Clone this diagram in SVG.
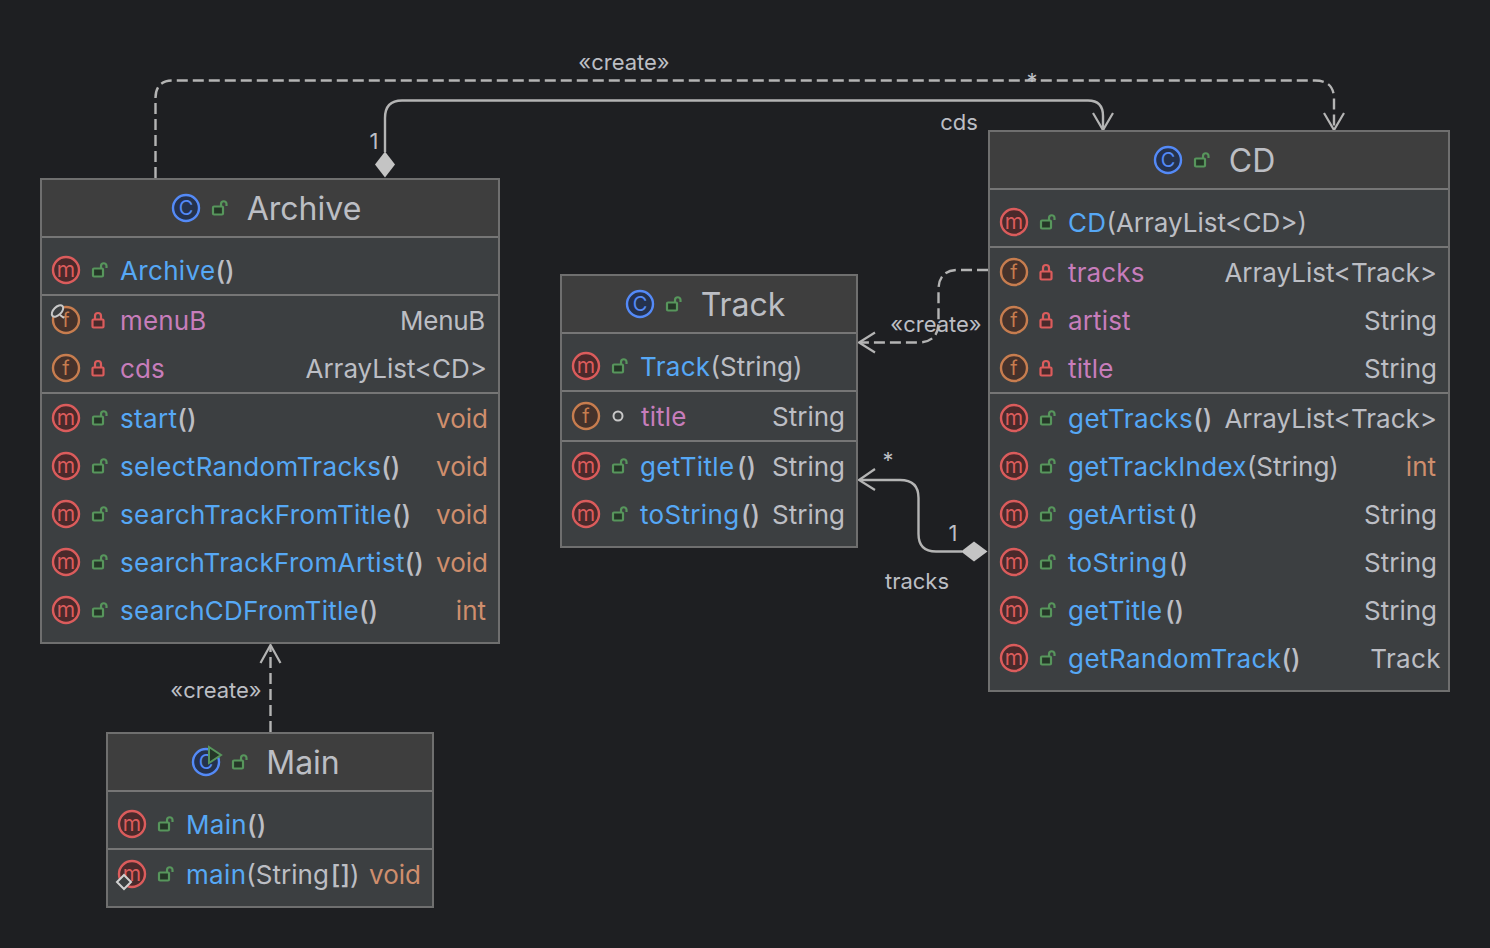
<svg xmlns="http://www.w3.org/2000/svg" width="1490" height="948" viewBox="0 0 1490 948">
<style>
text{font-family:Inter,"Liberation Sans",sans-serif;font-size:26px;fill:#bcbec4}
.title{font-size:32px;text-anchor:middle}
.m{fill:#56a8f5;letter-spacing:.33px}.f{fill:#c77dbb;letter-spacing:.15px}.t{fill:#cf8e6d}
.p{font-weight:500}
.r{text-anchor:end}
.lbl{font-size:22px;fill:#bcbec4}
.body{fill:#3c3f41;stroke:#6f6f6f;stroke-width:2}
.head{fill:#3e3e3e}
.sep{stroke:#767676;stroke-width:2}
.line{fill:none;stroke:#b4b4b4;stroke-width:2.4}
.dash{stroke-dasharray:11 5}
.arrow{fill:none;stroke:#b4b4b4;stroke-width:2.2}
.dia{fill:#c4c4c4}
</style>
<defs>
<g id="im"><circle r="13" fill="#4a2a2b" stroke="#db5c5c" stroke-width="2.4"/><text y="6.500" text-anchor="middle" style="font-size:21px;fill:#db5c5c">m</text></g>
<g id="if"><circle r="13" fill="#45322b" stroke="#c77d4f" stroke-width="2.4"/><text y="7" text-anchor="middle" style="font-size:20px;fill:#c77d4f">f</text></g>
<g id="ic"><circle r="13" fill="#25324d" stroke="#548af7" stroke-width="2.4"/><text y="7" text-anchor="middle" style="font-size:20px;fill:#548af7">C</text></g>
<g id="pub"><rect x="-7" y="-1.500" width="10" height="8" rx="1" fill="#253627" stroke="#57965c" stroke-width="2.2"/><path d="M1-2V-4a2.750 2.750 0 0 1 5.500 0V-2" fill="none" stroke="#57965c" stroke-width="2.200"/></g>
<g id="priv"><rect x="-5.500" y="-.5" width="11" height="8" rx="1" fill="#4a2a2b" stroke="#db5c5c" stroke-width="2.2"/><path d="M-3-.5V-4a3 3 0 0 1 6 0V-.5" fill="none" stroke="#db5c5c" stroke-width="2.200"/></g>
</defs>
<rect width="1490" height="948" fill="#1e1f22"/>

<g id="connectors">
<path class="line dash" d="M155.500 178V98Q155.500 80.500 173 80.500H1315Q1334 80.500 1334 99V130"/>
<path class="arrow" d="M1324 113L1334 130L1344 113"/>
<path class="line" d="M385 152V118Q385 100.500 402 100.500H1088Q1103 100.500 1103 116V130"/>
<path class="arrow" d="M1093 113L1103 130L1113 113"/>
<path class="dia" d="M385 151.500L395 164.500L385 177.500L375 164.500Z"/>
<path class="line dash" d="M988 270H958Q938.500 270 938.500 290V322Q938.500 342.500 918 342.500H860"/>
<path class="arrow" d="M875 332.500L859 342.500L875 352.500"/>
<path class="line" d="M962 551.500H936Q918.500 551.500 918.500 534V498Q918.500 480 900 480H860"/>
<path class="arrow" d="M875 469L859 480L875 490"/>
<path class="dia" d="M961 551.500L974 541.500L987.500 551.500L974 561.500Z"/>
<path class="line dash" d="M270.500 732V646"/>
<path class="arrow" d="M260.500 663L270.500 645L280.500 663"/>
<text class="lbl" x="624" y="70" text-anchor="middle">«create»</text>
<text class="lbl" x="1032" y="89" text-anchor="middle">*</text>
<text class="lbl" x="959" y="130" text-anchor="middle">cds</text>
<text class="lbl" x="374" y="149" text-anchor="middle">1</text>
<text class="lbl" x="936" y="332" text-anchor="middle">«create»</text>
<text class="lbl" x="888" y="468" text-anchor="middle">*</text>
<text class="lbl" x="953" y="541" text-anchor="middle">1</text>
<text class="lbl" x="917" y="589" text-anchor="middle">tracks</text>
<text class="lbl" x="216" y="698" text-anchor="middle">«create»</text>
</g>

<g id="Archive">
<rect class="body" x="41" y="179" width="458" height="464"/>
<rect class="head" x="42" y="180" width="456" height="57"/>
<path class="sep" d="M42 237H498M42 295H498M42 393H498"/>
<use href="#ic" x="186" y="208"/><use href="#pub" x="220" y="208"/>
<text class="title" x="304" y="220">Archive</text>
<use href="#im" x="66" y="270"/><use href="#pub" x="100" y="270"/>
<text x="120" y="280"><tspan class="m">Archive</tspan><tspan class="p">()</tspan></text>
<use href="#if" x="66" y="320"/><use href="#priv" x="98" y="320"/>
<text class="f" x="120" y="330">menuB</text><text class="r" x="485" y="330" style="letter-spacing:-.3px">MenuB</text>
<use href="#if" x="66" y="368"/><use href="#priv" x="98" y="368"/>
<text class="f" x="120" y="378">cds</text><text class="r" x="487" y="378">ArrayList&lt;CD&gt;</text>
<use href="#im" x="66" y="418"/><use href="#pub" x="100" y="418"/>
<text x="120" y="428"><tspan class="m">start</tspan><tspan class="p">()</tspan></text><text class="t r" x="488" y="428">void</text>
<use href="#im" x="66" y="466"/><use href="#pub" x="100" y="466"/>
<text x="120" y="476"><tspan class="m">selectRandomTracks</tspan><tspan class="p">()</tspan></text><text class="t r" x="488" y="476">void</text>
<use href="#im" x="66" y="514"/><use href="#pub" x="100" y="514"/>
<text x="120" y="524"><tspan class="m" style="letter-spacing:.4px">searchTrackFromTitle</tspan><tspan class="p">()</tspan></text><text class="t r" x="488" y="524">void</text>
<use href="#im" x="66" y="562"/><use href="#pub" x="100" y="562"/>
<text x="120" y="572"><tspan class="m">searchTrackFromArtist</tspan><tspan class="p">()</tspan></text><text class="t r" x="488" y="572">void</text>
<use href="#im" x="66" y="610"/><use href="#pub" x="100" y="610"/>
<text x="120" y="620"><tspan class="m" style="letter-spacing:.25px">searchCDFromTitle</tspan><tspan class="p">()</tspan></text><text class="t r" x="486" y="620">int</text>
<g fill="#3c3f41" stroke="#c8c8c8" stroke-width="2"><ellipse cx="57.500" cy="311" rx="7" ry="4" transform="rotate(-45 57.500 311)"/><path d="M60 315L64 318"/></g>
</g>

<g id="Track">
<rect class="body" x="561" y="275" width="296" height="272"/>
<rect class="head" x="562" y="276" width="294" height="57"/>
<path class="sep" d="M562 333H856M562 391H856M562 441H856"/>
<use href="#ic" x="640" y="304"/><use href="#pub" x="674" y="304"/>
<text class="title" x="743" y="316">Track</text>
<use href="#im" x="586" y="366"/><use href="#pub" x="620" y="366"/>
<text x="640" y="376"><tspan class="m">Track</tspan><tspan>(String)</tspan></text>
<use href="#if" x="586" y="416"/><circle cx="618" cy="416" r="4.500" fill="none" stroke="#c8c8c8" stroke-width="2"/>
<text class="f" x="641" y="426">title</text><text class="r" x="845" y="426">String</text>
<use href="#im" x="586" y="466"/><use href="#pub" x="620" y="466"/>
<text x="640" y="476"><tspan class="m">getTitle</tspan><tspan class="p" dx="2.500">()</tspan></text><text class="r" x="845" y="476">String</text>
<use href="#im" x="586" y="514"/><use href="#pub" x="620" y="514"/>
<text x="640" y="524"><tspan class="m">toString</tspan><tspan class="p" dx="1.500">()</tspan></text><text class="r" x="845" y="524">String</text>
</g>

<g id="CD">
<rect class="body" x="989" y="131" width="460" height="560"/>
<rect class="head" x="990" y="132" width="458" height="57"/>
<path class="sep" d="M990 189H1448M990 247H1448M990 393H1448"/>
<use href="#ic" x="1168" y="160"/><use href="#pub" x="1202" y="160"/>
<text class="title" x="1252" y="172">CD</text>
<use href="#im" x="1014" y="222"/><use href="#pub" x="1048" y="222"/>
<text x="1068" y="232"><tspan class="m">CD</tspan><tspan>(ArrayList&lt;CD&gt;)</tspan></text>
<use href="#if" x="1014" y="272"/><use href="#priv" x="1046" y="272"/>
<text class="f" x="1068" y="282">tracks</text><text class="r" x="1437" y="282">ArrayList&lt;Track&gt;</text>
<use href="#if" x="1014" y="320"/><use href="#priv" x="1046" y="320"/>
<text class="f" x="1068" y="330">artist</text><text class="r" x="1437" y="330">String</text>
<use href="#if" x="1014" y="368"/><use href="#priv" x="1046" y="368"/>
<text class="f" x="1068" y="378">title</text><text class="r" x="1437" y="378">String</text>
<use href="#im" x="1014" y="418"/><use href="#pub" x="1048" y="418"/>
<text x="1068" y="428"><tspan class="m" style="letter-spacing:.43px">getTracks</tspan><tspan class="p">()</tspan></text><text class="r" x="1437" y="428">ArrayList&lt;Track&gt;</text>
<use href="#im" x="1014" y="466"/><use href="#pub" x="1048" y="466"/>
<text x="1068" y="476"><tspan class="m">getTrackIndex</tspan><tspan>(String)</tspan></text><text class="t r" x="1436" y="476">int</text>
<use href="#im" x="1014" y="514"/><use href="#pub" x="1048" y="514"/>
<text x="1068" y="524"><tspan class="m">getArtist</tspan><tspan class="p" dx="3">()</tspan></text><text class="r" x="1437" y="524">String</text>
<use href="#im" x="1014" y="562"/><use href="#pub" x="1048" y="562"/>
<text x="1068" y="572"><tspan class="m">toString</tspan><tspan class="p" dx="1.500">()</tspan></text><text class="r" x="1437" y="572">String</text>
<use href="#im" x="1014" y="610"/><use href="#pub" x="1048" y="610"/>
<text x="1068" y="620"><tspan class="m">getTitle</tspan><tspan class="p" dx="2.500">()</tspan></text><text class="r" x="1437" y="620">String</text>
<use href="#im" x="1014" y="658"/><use href="#pub" x="1048" y="658"/>
<text x="1068" y="668"><tspan class="m" style="letter-spacing:.43px">getRandomTrack</tspan><tspan class="p">()</tspan></text><text class="r" x="1441" y="668" style="letter-spacing:.4px">Track</text>
</g>

<g id="Main">
<rect class="body" x="107" y="733" width="326" height="174"/>
<rect class="head" x="108" y="734" width="324" height="57"/>
<path class="sep" d="M108 791H432M108 849H432"/>
<use href="#ic" x="206" y="762"/><path d="M209 747L221 755L209 763Z" fill="#253627" stroke="#57965c" stroke-width="2"/><use href="#pub" x="240" y="762"/>
<text class="title" x="303" y="774">Main</text>
<use href="#im" x="132" y="824"/><use href="#pub" x="166" y="824"/>
<text x="186" y="834"><tspan class="m">Main</tspan><tspan class="p">()</tspan></text>
<use href="#im" x="132" y="874"/><use href="#pub" x="166" y="874"/>
<text x="186" y="884"><tspan class="m">main</tspan><tspan>(String</tspan><tspan class="p" dx="2">[]</tspan><tspan>)</tspan></text><text class="t r" x="421" y="884">void</text>
<path d="M124 875L131 882L124 889L117 882Z" fill="#3c3f41" stroke="#d0d0d0" stroke-width="2"/>
</g>
</svg>
